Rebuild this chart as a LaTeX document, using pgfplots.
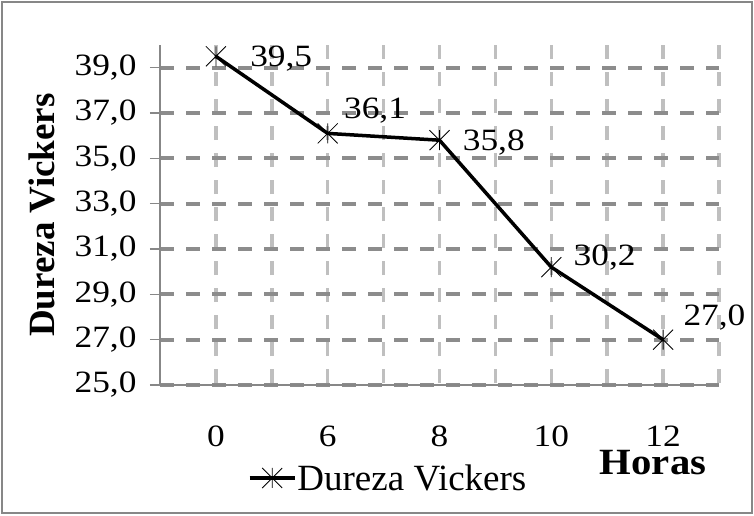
\documentclass[border=0pt]{standalone}
\usepackage{pgfplots}
\pgfplotsset{compat=1.18}
\usepackage{pgfplotstable}
\usepackage{fontspec}
\setmainfont{Liberation Serif}
\newfontfamily\tickfont{Liberation Serif}[FakeStretch=1.14]
\newfontfamily\horasfont{Liberation Serif}[FakeStretch=1.1]
\definecolor{framegray}{HTML}{878787}
\definecolor{hgrid}{HTML}{8C8C8C}
\definecolor{vgrid}{HTML}{BFBFBF}
\pgfdeclareplotmark{xstar}{%
 \pgfpathmoveto{\pgfqpoint{-\pgfplotmarksize}{-\pgfplotmarksize}}%
 \pgfpathlineto{\pgfqpoint{\pgfplotmarksize}{\pgfplotmarksize}}%
 \pgfpathmoveto{\pgfqpoint{-\pgfplotmarksize}{\pgfplotmarksize}}%
 \pgfpathlineto{\pgfqpoint{\pgfplotmarksize}{-\pgfplotmarksize}}%
 \pgfpathmoveto{\pgfqpoint{0pt}{-\pgfplotmarksize}}%
 \pgfpathlineto{\pgfqpoint{0pt}{\pgfplotmarksize}}%
 \pgfusepathqstroke}
\pgfplotstableread{
x y lbl dx dy
0 39.5 39,5 34 -2
1 36.1 36,1 16 23
2 35.8 35,8 23 -2
3 30.2 30,2 22 10
4 27.0 27,0 20 22
}\datatable
\begin{document}
\begin{tikzpicture}
\useasboundingbox (0,0) rectangle (754pt,515pt);
\draw[framegray, line width=2pt] (2pt,2pt) rectangle (751.5pt,513pt);
\begin{axis}[
  at={(160pt,130pt)}, anchor=south west,
  scale only axis, width=559pt, height=340pt,
  xmin=-0.5, xmax=4.5, ymin=25, ymax=40,
  axis x line=bottom, axis y line=left,
  axis line style={framegray, line width=1.3pt, -},
  xtick={0,0.5,1,1.5,2,2.5,3,3.5,4,4.5},
  xticklabels={0,,6,,8,,10,,12,},
  ytick={25,27,29,31,33,35,37,39},
  yticklabels={{25,0},{27,0},{29,0},{31,0},{33,0},{35,0},{37,0},{39,0}},
  major x tick style={draw=none},
  major y tick style={framegray, line width=1.3pt},
  tick align=outside, major tick length=10pt,
  xmajorgrids, ymajorgrids,
  x grid style={vgrid, line width=3.5pt, dash pattern=on 14pt off 13pt, dash phase=25pt},
  y grid style={hgrid, line width=4pt, dash pattern=on 14pt off 12pt},
  /pgf/number format/assume math mode=true,
  ticklabel style={font=\tickfont\fontsize{31}{31}\selectfont},
  xticklabel style={inner sep=0pt, yshift=-31pt},
  yticklabel style={xshift=-10pt},
  xlabel={\textbf{Horas}},
  ylabel={\textbf{Dureza Vickers}},
  xlabel style={at={(axis description cs:0.882,-0.263)}, anchor=base, inner sep=0pt, font=\horasfont\fontsize{37}{37}\selectfont},
  ylabel style={at={(axis description cs:-0.211,0.5)}, anchor=center, rotate=0, font=\fontsize{37}{37}\selectfont},
  clip=false,
  legend style={at={(axis description cs:0.157,-0.2735)}, anchor=west, draw=none, fill=none,
    inner sep=0pt, font=\fontsize{37}{37}\selectfont,
    nodes={inner sep=1pt}},
  legend image code/.code={\draw[#1, mark repeat=2, mark phase=2] plot coordinates {(0pt,0pt) (22.5pt,0pt) (45pt,0pt)};},
]
\addplot[black, line width=3.5pt, mark=xstar, mark size=10pt, mark options={line width=0.8pt, solid},
  point meta=explicit symbolic,
  nodes near coords={\pgfplotspointmeta},
  visualization depends on={\thisrow{dx} \as \dx},
  visualization depends on={\thisrow{dy} \as \dy},
  every node near coord/.append style={anchor=west, inner sep=0pt, xshift=\dx pt, yshift=\dy pt, font=\tickfont\fontsize{31}{31}\selectfont, black}]
  table[x=x, y=y, meta=lbl] {\datatable};
\addlegendentry{Dureza Vickers}
\end{axis}
\end{tikzpicture}
\end{document}
